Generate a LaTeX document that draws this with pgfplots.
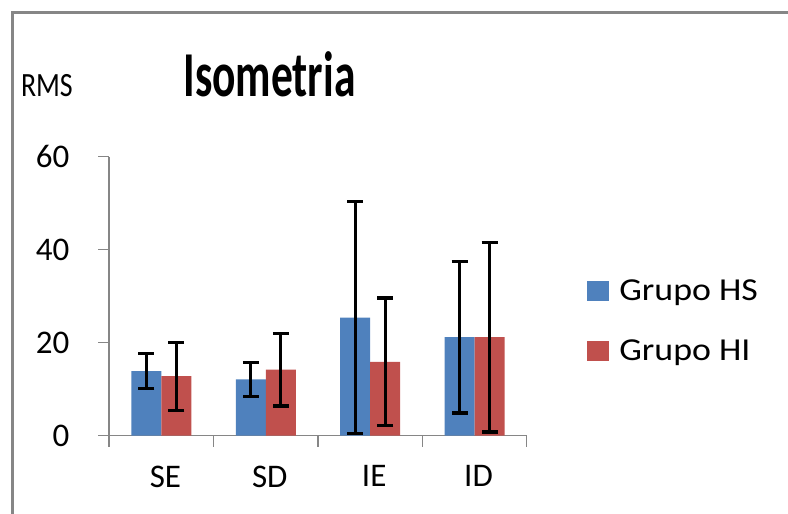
\documentclass[border=0pt]{standalone}
\usepackage{fontspec}
\setmainfont{Carlito}
\usepackage{graphicx}
\usepackage{pgfplots}
\pgfplotsset{compat=1.18}
\definecolor{hsblue}{HTML}{4F81BD}
\definecolor{hired}{HTML}{C0504D}
\definecolor{axgray}{HTML}{868686}
\begin{document}
\begin{tikzpicture}[x=1pt,y=1pt]
\useasboundingbox (0,0) rectangle (394,257);
\draw[axgray, line width=1.5pt] (6,0) -- (6,250.5) -- (394,250.5);
\node[anchor=base west, inner sep=0pt, font=\fontsize{17}{19}\selectfont] at (10.3,208.6) {\scalebox{0.82}[1]{RMS}};
\node[anchor=base, inner sep=0pt, font=\fontsize{32}{36}\selectfont\bfseries] at (134.75,208.6) {\scalebox{0.68}[1]{Isometria}};
\begin{axis}[
  at={(54.65pt,39.15pt)}, anchor=south west,
  scale only axis, width=208.7pt, height=139.5pt,
  xmin=-0.5, xmax=3.5, ymin=0, ymax=60,
  ybar=0pt, bar width=15pt,
  axis x line=bottom, axis y line=left,
  axis line style={-, axgray, line width=0.8pt},
  tick style={axgray, line width=0.8pt},
  major tick length=5.5pt, tick align=outside,
  xtick={-0.5,0.5,1.5,2.5,3.5},
  x tick label as interval,
  xticklabels={SE,SD,IE,ID},
  ytick={0,20,40,60},
  tick label style={font=\fontsize{16.5}{18}\selectfont},
  /pgf/number format/assume math mode=true,
  xticklabel style={yshift=-6pt, xshift=2pt},
  yticklabel style={xshift=-11pt},
  legend style={draw=none, fill=none, at={(1.13,0.41)}, anchor=west,
    font=\fontsize{16}{18}\selectfont, row sep=14pt,
    /tikz/every odd column/.append style={column sep=3pt}},
  legend cell align=left,
  legend image code/.code={\fill[#1] (0pt,-5pt) rectangle (11pt,5pt);},
  error bars/y dir=both, error bars/y explicit,
  error bars/error bar style={black, line width=1.6pt},
  error bars/error mark options={rotate=90, black, mark size=4pt, line width=1.6pt},
]
\addplot[fill=hsblue, draw=none] coordinates {
  (0,13.9) +- (0,3.8)
  (1,12.1) +- (0,3.6)
  (2,25.4) +- (0,24.9)
  (3,21.2) +- (0,16.3)
};
\addplot[fill=hired, draw=none] coordinates {
  (0,12.8) +- (0,7.3)
  (1,14.2) +- (0,7.8)
  (2,15.9) +- (0,13.7)
  (3,21.2) +- (0,20.4)
};
\legend{\scalebox{1.12}[1]{Grupo HS}, \scalebox{1.12}[1]{Grupo HI}}
\end{axis}
\end{tikzpicture}
\end{document}
